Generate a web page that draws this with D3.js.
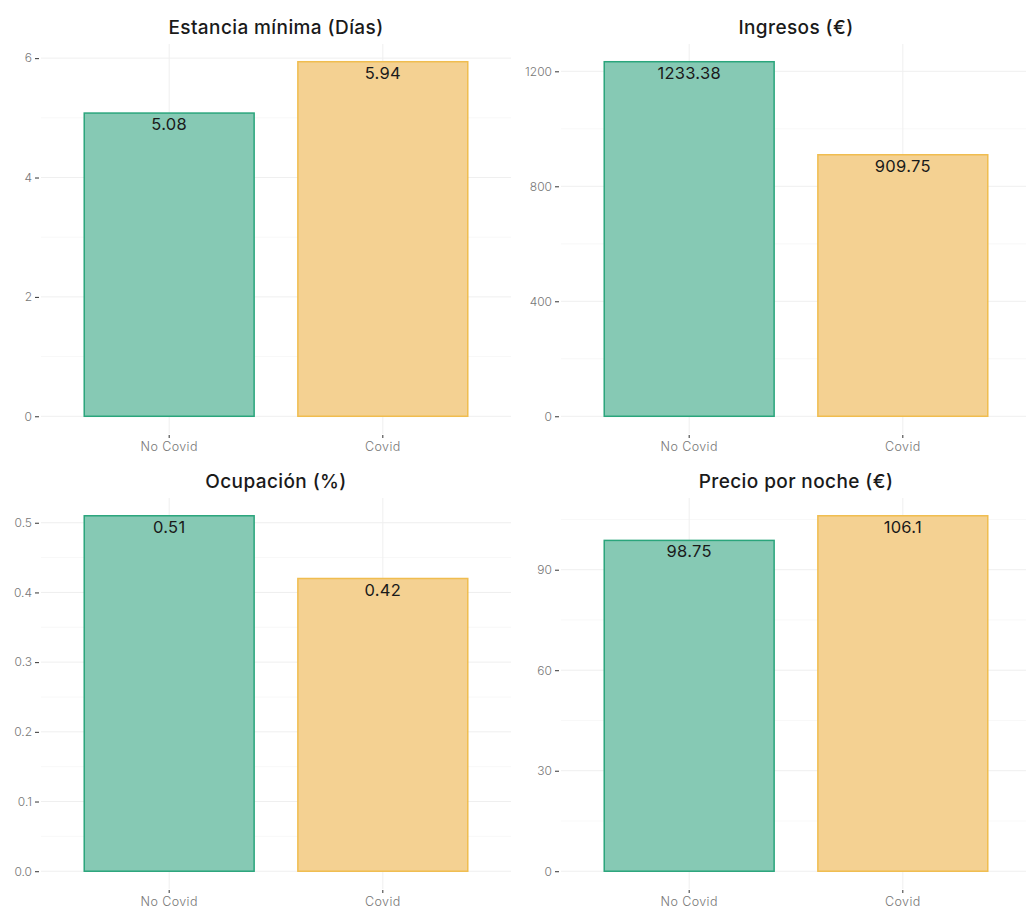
<!DOCTYPE html>
<html>
<head>
<meta charset="utf-8">
<script src="https://cdn.jsdelivr.net/npm/d3@7"></script>
<style>
  html, body { margin: 0; padding: 0; background: #ffffff; }
  svg { display: block; }
</style>
</head>
<body>
<div id="chart"></div>
<script>
// Categories shared by every panel
const categories = ["No Covid", "Covid"];

// Panel titles
const titles = ["Estancia mínima (Días)", "Ingresos (€)", "Ocupación (%)", "Precio por noche (€)"];

// Values per panel (No Covid, Covid)
const estanciaValues = [5.08, 5.94];
const ingresosValues = [1233.38, 909.75];
const ocupacionValues = [0.51, 0.42];
const precioValues = [98.75, 106.1];

// Y tick values and their labels
const estanciaTicks = [0, 2, 4, 6];
const ingresosTicks = [0, 400, 800, 1200];
const ocupacionTicks = [0, 0.1, 0.2, 0.3, 0.4, 0.5];
const ocupacionTickLabels = ["0.0", "0.1", "0.2", "0.3", "0.4", "0.5"];
const precioTicks = [0, 30, 60, 90];

const fills = ["#86c9b4", "#f4d192"];
const strokes = ["#2aa57c", "#f0bd4f"];

const W = 1026, H = 908;
const svg = d3.select("#chart").append("svg")
  .attr("width", W).attr("height", H);

const panels = [
  { title: titles[0], values: estanciaValues, ticks: estanciaTicks, labels: estanciaTicks.map(String),
    x0: 41, x1: 511, y0: 44, y1: 434, titleY: 27 },
  { title: titles[1], values: ingresosValues, ticks: ingresosTicks, labels: ingresosTicks.map(String),
    x0: 561, x1: 1031, y0: 44, y1: 434, titleY: 27 },
  { title: titles[2], values: ocupacionValues, ticks: ocupacionTicks, labels: ocupacionTickLabels,
    x0: 41, x1: 511, y0: 498, y1: 889, titleY: 481 },
  { title: titles[3], values: precioValues, ticks: precioTicks, labels: precioTicks.map(String),
    x0: 561, x1: 1031, y0: 498, y1: 889, titleY: 481 }
];

const font = "Inter, 'DejaVu Sans', sans-serif";

panels.forEach(p => {
  const g = svg.append("g");
  const max = d3.max(p.values);
  const y = d3.scaleLinear().domain([-0.05 * max, 1.05 * max]).range([p.y1, p.y0]);
  const x = d3.scaleBand().domain(categories).range([p.x0, p.x1])
    .paddingInner(0.2).paddingOuter(0.2);

  // minor gridlines at tick midpoints
  const step = p.ticks[1] - p.ticks[0];
  const minor = [];
  for (let v = p.ticks[0] - step / 2; v <= 1.05 * max; v += step) {
    if (v >= -0.05 * max) minor.push(v);
  }
  g.selectAll(".minor").data(minor).join("line")
    .attr("x1", p.x0).attr("x2", Math.min(p.x1, W))
    .attr("y1", d => y(d)).attr("y2", d => y(d))
    .attr("stroke", "#f6f6f6").attr("stroke-width", 0.8);

  // major gridlines
  g.selectAll(".major").data(p.ticks).join("line")
    .attr("x1", p.x0).attr("x2", Math.min(p.x1, W))
    .attr("y1", d => y(d)).attr("y2", d => y(d))
    .attr("stroke", "#efefef").attr("stroke-width", 1);
  g.selectAll(".vgrid").data(categories).join("line")
    .attr("x1", d => x(d) + x.bandwidth() / 2).attr("x2", d => x(d) + x.bandwidth() / 2)
    .attr("y1", p.y0).attr("y2", p.y1)
    .attr("stroke", "#efefef").attr("stroke-width", 1);

  // bars
  g.selectAll(".bar").data(p.values).join("rect")
    .attr("x", (d, i) => x(categories[i]) + 0.5)
    .attr("width", x.bandwidth() - 1)
    .attr("y", d => y(d))
    .attr("height", d => y(0) - y(d))
    .attr("fill", (d, i) => fills[i])
    .attr("stroke", (d, i) => strokes[i])
    .attr("stroke-width", 1.5);

  // value labels
  g.selectAll(".val").data(p.values).join("text")
    .attr("x", (d, i) => x(categories[i]) + x.bandwidth() / 2)
    .attr("y", d => y(d) + 17)
    .attr("text-anchor", "middle")
    .attr("font-family", font).attr("font-size", 16.5)
    .attr("letter-spacing", 0.3)
    .attr("fill", "#1a1a1a")
    .text(d => String(d));

  // y axis
  const yAxis = d3.axisLeft(y).tickValues(p.ticks)
    .tickFormat((d, i) => p.labels[i]).tickSize(4).tickPadding(3);
  const ya = g.append("g").attr("transform", `translate(${p.x0 - 2},0)`).call(yAxis);
  ya.select(".domain").remove();
  ya.selectAll(".tick line").attr("stroke", "#333").attr("stroke-width", 1);
  ya.selectAll(".tick text").attr("fill", "#777").attr("font-size", 12)
    .attr("font-family", font).attr("font-weight", 300);

  // x axis
  const xAxis = d3.axisBottom(x).tickSize(3).tickPadding(4);
  const xa = g.append("g").attr("transform", `translate(0,${p.y1 + 1})`).call(xAxis);
  xa.select(".domain").remove();
  xa.selectAll(".tick line").attr("stroke", "#333").attr("stroke-width", 1);
  xa.selectAll(".tick text").attr("fill", "#777").attr("font-size", 12.5)
    .attr("letter-spacing", 0.4)
    .attr("font-family", font).attr("font-weight", 300);

  // title
  svg.append("text")
    .attr("x", (p.x0 + p.x1) / 2)
    .attr("y", p.titleY)
    .attr("dy", "0.35em")
    .attr("text-anchor", "middle")
    .attr("font-family", font).attr("font-size", 19).attr("font-weight", 500)
    .attr("letter-spacing", 0.4)
    .attr("fill", "#1a1a1a")
    .text(p.title);
});
</script>
</body>
</html>
